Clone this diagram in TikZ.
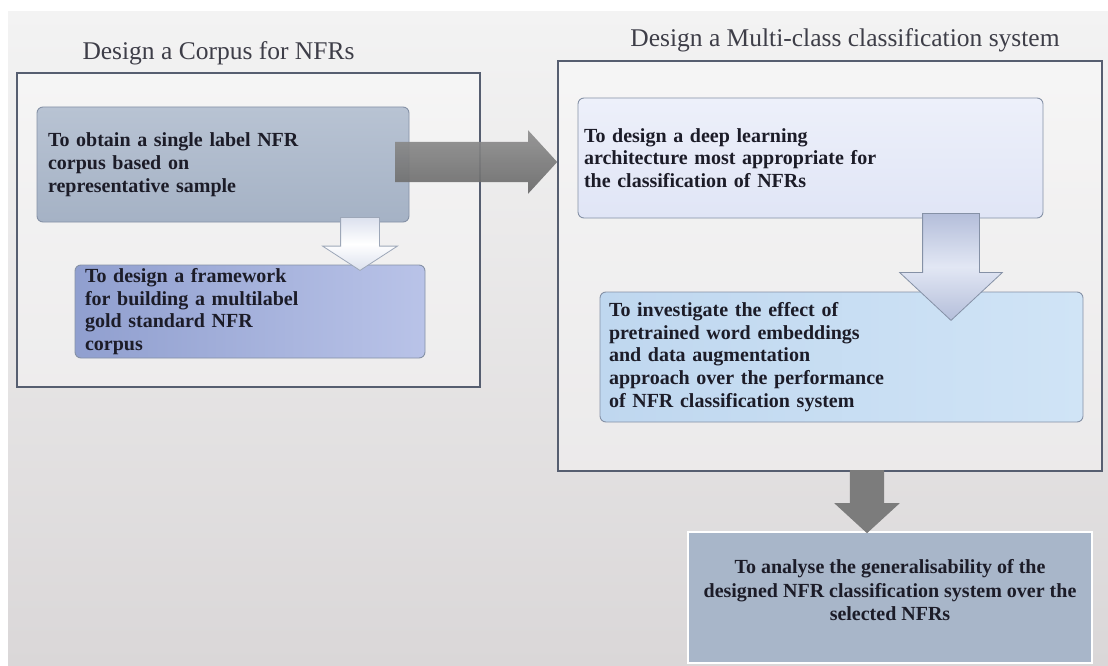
\documentclass[tikz,border=0pt]{standalone}
\usepackage{fontspec}
\setmainfont{Liberation Serif}
\usetikzlibrary{shapes.arrows}

\definecolor{bgtop}{HTML}{F3F3F3}
\definecolor{bgbot}{HTML}{DAD7D8}
\definecolor{frame}{HTML}{565E70}
\definecolor{ink}{HTML}{1C1C28}
\definecolor{aTop}{HTML}{B8C3D3}
\definecolor{aBot}{HTML}{A5B2C5}
\definecolor{bLeft}{HTML}{909FCF}
\definecolor{bRight}{HTML}{B9C3E8}
\definecolor{cTop}{HTML}{EDF0FA}
\definecolor{cBot}{HTML}{E0E5F6}
\definecolor{dLeft}{HTML}{BFD7EF}
\definecolor{dRight}{HTML}{D0E4F6}
\definecolor{eFill}{HTML}{A8B6C9}
\definecolor{boxedge}{HTML}{8591A6}
\definecolor{grayarrow}{HTML}{7C7C7C}
\definecolor{paleside}{HTML}{DCE1EE}
\definecolor{blueside}{HTML}{B4BEDA}
\definecolor{bluemid}{HTML}{E2E7F4}

\tikzset{
  outerbox/.style={draw=frame, line width=1.6pt, fill=white, fill opacity=0.35,
    text opacity=1, inner sep=0pt},
  titletext/.style={font=\fontsize{25.5}{28}\selectfont, text=ink!85, inner sep=0pt, anchor=base},
  goalbox/.style={draw=boxedge, line width=0.9pt, rounded corners=6pt,
    font=\bfseries\fontsize{20}{22.8}\selectfont, text=ink, align=left, inner ysep=0pt},
  bodytext/.style={font=\bfseries\fontsize{20}{23.5}\selectfont, text=ink, inner sep=0pt},
  % empty single-arrow node placed by its tail: the shaft width is twice the inner ysep
  blockarrow/.style={single arrow, inner xsep=0pt, rotate=#1, anchor=tail},
}

\begin{document}
\begin{tikzpicture}[x=1pt,y=-1pt]
  % canvas and soft gray backdrop
  \fill[white] (0,0) rectangle (1108,666);
  \shade[top color=bgtop, bottom color=bgbot] (8,12) rectangle (1108,666);
  \useasboundingbox (0,0) rectangle (1108,666);

  % section frames and their headings
  \node[outerbox, minimum width=463pt, minimum height=314pt] (corpus) at (248.5,230) {};
  \node[outerbox, minimum width=544pt, minimum height=410pt] (system) at (830,266) {};
  \node[titletext] (corpusT) at (218.5,60) {Design a Corpus for NFRs};
  \node[titletext] (systemT) at (845,47) {Design a Multi-class classification system};

  % first section: corpus goals
  \node[goalbox, top color=aTop, bottom color=aBot, minimum width=372pt, minimum height=115pt,
        inner xsep=11pt, text width=350pt] (A) at (223,164.5)
    {To obtain a single label NFR\\corpus based on\\representative sample};

  \node[goalbox, left color=bLeft, right color=bRight, minimum width=350pt, minimum height=93pt,
        inner xsep=10pt, text width=330pt] (B) at (250,311.5)
    {To design a framework\\for building a multilabel\\gold standard NFR\\corpus};

  \node[blockarrow=-90, inner ysep=19pt, minimum height=53pt, single arrow head extend=18pt,
        single arrow tip angle=114, draw=boxedge!80, line width=0.8pt,
        top color=paleside, bottom color=paleside, middle color=white]
        (AtoB) at (360,217) {};

  % second section: classification goals
  \node[goalbox, top color=cTop, bottom color=cBot, minimum width=465pt, minimum height=120pt,
        inner xsep=6pt, text width=453pt] (C) at (810.5,158)
    {To design a deep learning\\architecture most appropriate for\\the classification of NFRs};

  \node[goalbox, left color=dLeft, right color=dRight, minimum width=483pt, minimum height=130pt,
        inner xsep=9pt, text width=465pt] (D) at (841.5,357)
    {To investigate the effect of\\pretrained word embeddings\\and data augmentation\\approach over the performance\\of NFR classification system};

  \node[blockarrow=-90, inner ysep=28pt, minimum height=107pt, single arrow head extend=23pt,
        single arrow tip angle=94, draw=boxedge, line width=0.8pt,
        top color=blueside, bottom color=blueside, middle color=bluemid]
        (CtoD) at (951,213) {};

  % link between the two sections
  \node[blockarrow=0, inner ysep=20pt, minimum height=162pt, single arrow head extend=11.5pt,
        single arrow tip angle=95, top color=grayarrow!85, bottom color=grayarrow!85!black,
        middle color=grayarrow, fill opacity=0.92]
        (AtoC) at (395,162) {};

  % final goal
  \node[draw=white, line width=1.5pt, fill=eFill, minimum width=404pt, minimum height=131pt,
        inner sep=0pt] (E) at (890,597.5) {};
  \node[bodytext, align=center] (Etxt) at ([yshift=7pt]E.center)
    {To analyse the generalisability of the\\designed NFR classification system over the\\selected NFRs};

  \node[blockarrow=-90, inner ysep=17pt, minimum height=63pt, single arrow head extend=15.5pt,
        single arrow tip angle=95, fill=grayarrow]
        (sysToE) at (867,470) {};
\end{tikzpicture}
\end{document}
